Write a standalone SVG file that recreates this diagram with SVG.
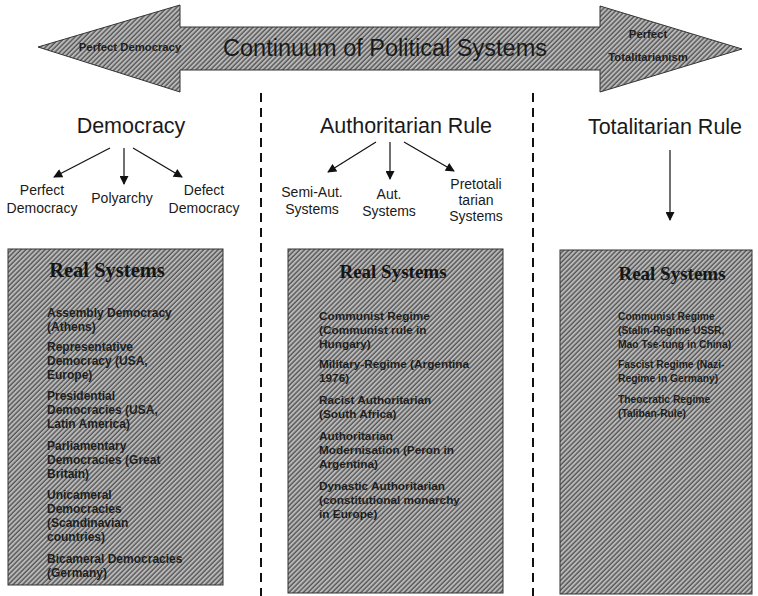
<svg xmlns="http://www.w3.org/2000/svg" width="758" height="596" viewBox="0 0 758 596">
<defs>
<pattern id="hatch" width="3.4" height="3.4" patternUnits="userSpaceOnUse" patternTransform="rotate(45)">
<rect width="3.4" height="3.4" fill="#b8b8b8"/>
<line x1="1" y1="0" x2="1" y2="3.4" stroke="#555" stroke-width="1.4"/>
</pattern>
<marker id="ah" viewBox="0 0 10 10" refX="9" refY="5" markerWidth="10" markerHeight="9" markerUnits="userSpaceOnUse" orient="auto">
<path d="M0,0 L10,5 L0,10 z" fill="#111"/>
</marker>
</defs>
<style>
.h{font-family:"Liberation Sans",Arial,sans-serif;font-size:21.5px;fill:#1a1a1a;text-anchor:middle}
.s{font-family:"Liberation Sans",Arial,sans-serif;font-size:14px;fill:#1a1a1a;text-anchor:middle}
.box{fill:url(#hatch);stroke:#333;stroke-width:1}
.rs{font-family:"Liberation Serif","Times New Roman",serif;font-size:19px;font-weight:bold;fill:#151515;text-anchor:middle}
.it{font-family:"Liberation Sans",Arial,sans-serif;font-weight:bold;fill:#1e1e1e}
.sm{font-family:"Liberation Sans",Arial,sans-serif;font-size:11.3px;font-weight:bold;fill:#1e1e1e;text-anchor:middle}
.c{stroke:#111;stroke-width:1.2;fill:none;marker-end:url(#ah)}
.d{stroke:#111;stroke-width:2;stroke-dasharray:9,6;fill:none}
</style>
<g id="continuum">
<polygon points="38,47 180,5 180,27 600,27 600,6 742,49 600,92 600,70 180,70 180,92" fill="url(#hatch)" stroke="#333" stroke-width="1"/>
<text x="130" y="51" class="sm">Perfect Democracy</text>
<text x="385" y="56" class="h" style="font-size:23.5px">Continuum of Political Systems</text>
<text x="648" y="38" class="sm">Perfect</text>
<text x="648" y="61" class="sm">Totalitarianism</text>
</g>
<g id="separators">
<line x1="261" y1="93" x2="261" y2="596" class="d"/>
<line x1="533" y1="93" x2="533" y2="596" class="d"/>
</g>
<g id="democracy"><text x="131" y="133" class="h">Democracy</text></g>
<g id="perfect-democracy"><text x="42" y="195" class="s">Perfect</text><text x="42" y="213" class="s">Democracy</text></g>
<g id="polyarchy"><text x="122" y="203" class="s">Polyarchy</text></g>
<g id="defect-democracy"><text x="204" y="195" class="s">Defect</text><text x="204" y="213" class="s">Democracy</text></g>
<g id="authoritarian"><text x="406" y="133" class="h">Authoritarian Rule</text></g>
<g id="semi-aut"><text x="312" y="197" class="s">Semi-Aut.</text><text x="312" y="214" class="s">Systems</text></g>
<g id="aut"><text x="389" y="199" class="s">Aut.</text><text x="389" y="216" class="s">Systems</text></g>
<g id="pretotalitarian"><text x="476" y="189" class="s">Pretotali</text><text x="476" y="205" class="s">tarian</text><text x="476" y="221" class="s">Systems</text></g>
<g id="totalitarian"><text x="665" y="134" class="h">Totalitarian Rule</text></g>
<g id="connectors">
<line x1="110" y1="148" x2="54" y2="177" class="c"/>
<line x1="124" y1="148" x2="124" y2="184" class="c"/>
<line x1="133" y1="148" x2="182" y2="177" class="c"/>
<line x1="376" y1="142" x2="328" y2="172" class="c"/>
<line x1="390" y1="142" x2="390" y2="179" class="c"/>
<line x1="404" y1="142" x2="454" y2="171" class="c"/>
<line x1="670" y1="150" x2="670" y2="220" class="c"/>
</g>
<g id="real-democracy">
<rect x="8" y="249" width="215" height="336" class="box"/>
<text x="107" y="277" class="rs" style="font-size:20.5px">Real Systems</text>
<text class="it" font-size="12"><tspan x="47" y="317">Assembly Democracy</tspan><tspan x="47" y="331">(Athens)</tspan><tspan x="47" y="351">Representative</tspan><tspan x="47" y="365">Democracy (USA,</tspan><tspan x="47" y="379">Europe)</tspan><tspan x="47" y="400">Presidential</tspan><tspan x="47" y="414">Democracies (USA,</tspan><tspan x="47" y="428">Latin America)</tspan><tspan x="47" y="450">Parliamentary</tspan><tspan x="47" y="464">Democracies (Great</tspan><tspan x="47" y="478">Britain)</tspan><tspan x="47" y="499">Unicameral</tspan><tspan x="47" y="513">Democracies</tspan><tspan x="47" y="527">(Scandinavian</tspan><tspan x="47" y="541">countries)</tspan><tspan x="47" y="563">Bicameral Democracies</tspan><tspan x="47" y="577">(Germany)</tspan></text>
</g>
<g id="real-authoritarian">
<rect x="288" y="249" width="215" height="344" class="box"/>
<text x="393" y="278" class="rs">Real Systems</text>
<text class="it" font-size="11.8"><tspan x="319" y="320">Communist Regime</tspan><tspan x="319" y="334">(Communist rule in</tspan><tspan x="319" y="348">Hungary)</tspan><tspan x="319" y="368">Military-Regime (Argentina</tspan><tspan x="319" y="382">1976)</tspan><tspan x="319" y="404">Racist Authoritarian</tspan><tspan x="319" y="418">(South Africa)</tspan><tspan x="319" y="440">Authoritarian</tspan><tspan x="319" y="454">Modernisation (Peron in</tspan><tspan x="319" y="468">Argentina)</tspan><tspan x="319" y="490">Dynastic Authoritarian</tspan><tspan x="319" y="504">(constitutional monarchy</tspan><tspan x="319" y="518">in Europe)</tspan></text>
</g>
<g id="real-totalitarian">
<rect x="560" y="250" width="192" height="344" class="box"/>
<text x="672" y="280" class="rs">Real Systems</text>
<text class="it" font-size="10.3"><tspan x="618" y="320">Communist Regime</tspan><tspan x="618" y="334">(Stalin-Regime USSR,</tspan><tspan x="618" y="348">Mao Tse-tung in China)</tspan><tspan x="618" y="368">Fascist Regime (Nazi-</tspan><tspan x="618" y="382">Regime in Germany)</tspan><tspan x="618" y="403">Theocratic Regime</tspan><tspan x="618" y="417">(Taliban-Rule)</tspan></text>
</g>
</svg>
